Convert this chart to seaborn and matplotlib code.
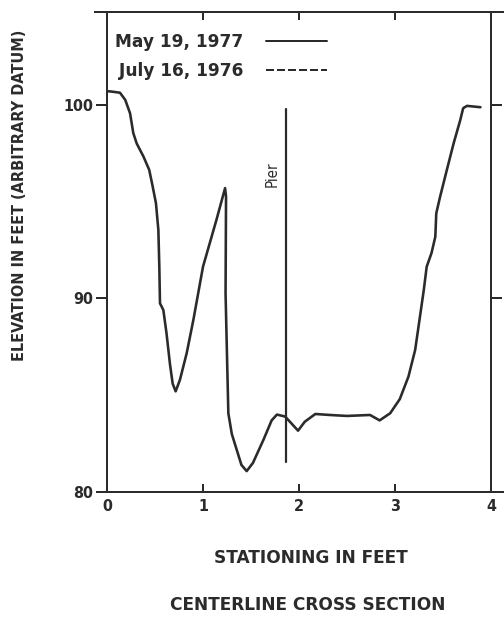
import matplotlib
matplotlib.use("Agg")
import matplotlib.pyplot as plt
from matplotlib.lines import Line2D
import seaborn as sns
import pandas as pd

# Channel cross-section survey along the centerline
station_ft = [0.0, 0.03, 0.135, 0.19, 0.24, 0.274, 0.31, 0.38, 0.44, 0.476,
              0.51, 0.535, 0.545, 0.552, 0.587, 0.62, 0.656, 0.684, 0.715,
              0.76, 0.83, 0.90, 0.95, 1.0, 1.07, 1.14, 1.23, 1.24, 1.235,
              1.247, 1.264, 1.30, 1.35, 1.40, 1.455, 1.52, 1.63, 1.715, 1.77,
              1.855, 1.92, 1.99, 2.06, 2.17, 2.32, 2.50, 2.74, 2.84, 2.95,
              3.05, 3.14, 3.21, 3.26, 3.30, 3.33, 3.38, 3.42, 3.43, 3.47,
              3.54, 3.61, 3.68, 3.71, 3.75, 3.89]
elevation_ft = [100.7, 100.7, 100.63, 100.26, 99.57, 98.54, 98.0, 97.33,
                96.64, 95.78, 94.92, 93.54, 91.64, 89.75, 89.4, 88.2, 86.6,
                85.6, 85.2, 85.8, 87.17, 88.9, 90.27, 91.64, 92.85, 94.06,
                95.7, 95.26, 90.27, 87.68, 84.07, 83.0, 82.2, 81.4, 81.08,
                81.5, 82.7, 83.7, 84.0, 83.9, 83.55, 83.17, 83.63, 84.03,
                83.98, 83.93, 83.98, 83.7, 84.07, 84.8, 85.96, 87.34, 89.06,
                90.44, 91.64, 92.34, 93.19, 94.4, 95.26, 96.64, 98.0, 99.22,
                99.83, 99.95, 99.88]

# Pier location (vertical marker)
pier_x = [1.86, 1.86]
pier_y = [81.55, 99.8]

survey_labels = ["May 19, 1977", "July 16, 1976"]
x_ticks = [0, 1, 2, 3, 4]
y_ticks = [80, 90, 100]

sns.set_theme(style="white")
plt.rcParams["font.family"] = ["DejaVu Sans"]
plt.rcParams["font.weight"] = "bold"

ink = "#2b2b2b"
fig = plt.figure(figsize=(504 / 72, 621 / 72), dpi=72)
ax = fig.add_axes([107 / 504, 1 - 492 / 621, (491 - 107) / 504, (492 - 12) / 621])

df = pd.DataFrame({"station": station_ft, "elevation": elevation_ft})
sns.lineplot(data=df, x="station", y="elevation", sort=False, estimator=None,
             color=ink, linewidth=2.6, ax=ax)
sns.lineplot(x=pier_x, y=pier_y, sort=False, estimator=None, color=ink,
             linewidth=2.2, ax=ax)
ax.text(1.72, 96.4, "Pier", rotation=90, ha="center", va="center",
        fontsize=15, color=ink, fontweight="normal", fontstretch="condensed")

ax.set_xlim(0, 4)
ax.set_ylim(80, 104.8)
ax.set_xticks(x_ticks)
ax.set_yticks(y_ticks)
tick_font = {"fontsize": 16, "color": ink, "fontweight": "bold",
             "fontstretch": "condensed"}
ax.set_xticklabels([str(t) for t in x_ticks], **tick_font)
ax.set_yticklabels([str(t) for t in y_ticks], **tick_font)

for side in ["left", "right", "top", "bottom"]:
    ax.spines[side].set_visible(True)
    ax.spines[side].set_color(ink)
    ax.spines[side].set_linewidth(2.0)
ax.spines["top"].set_bounds(-0.125, 4.14)
ax.spines["bottom"].set_bounds(-0.1, 4.14)

ax.tick_params(axis="x", which="both", direction="in", length=8, width=2,
               color=ink, top=True, bottom=True, pad=7)
ax.tick_params(axis="y", which="both", direction="out", length=11, width=2,
               color=ink, left=True, right=True, pad=3)

ax.set_xlabel("STATIONING IN FEET", fontsize=17, color=ink, fontweight="bold")
ax.xaxis.label.set_va("center")
ax.xaxis.set_label_coords(0.531, -0.1375)
ax.set_ylabel("ELEVATION IN FEET (ARBITRARY DATUM)", fontsize=14.5, color=ink,
              fontweight="bold")
ax.yaxis.set_label_coords(-0.208, 0.619)

fig.text(307.5 / 504, 1 - 605 / 621, "CENTERLINE CROSS SECTION",
         ha="center", va="center", fontsize=17, color=ink, fontweight="bold")

handles = [Line2D([], [], color=ink, linewidth=2, linestyle="-"),
           Line2D([], [], color=ink, linewidth=2, linestyle=(0, (4, 1.5)))]
ax.legend(handles, survey_labels, loc="upper left",
          bbox_to_anchor=(0.02, 0.957), borderpad=0, borderaxespad=0,
          frameon=False, markerfirst=False, handlelength=3.6,
          handletextpad=1.35, labelspacing=0.65,
          prop={"size": 17, "weight": "bold"}, labelcolor=ink)

fig.savefig("out.png", dpi=72, facecolor="white")
